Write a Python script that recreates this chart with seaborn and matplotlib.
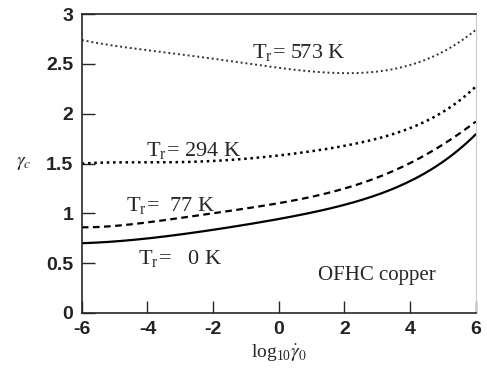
import numpy as np
import pandas as pd
import matplotlib
matplotlib.use("Agg")
import matplotlib.pyplot as plt
import seaborn as sns

# values (log10 strain rate -> gamma_c)
x_rate = [-6, -4, -2, 0, 1, 2, 3, 4, 4.5, 5, 5.5, 6]
gc_0K = [0.70, 0.75, 0.83, 0.95, 1.01, 1.08, 1.18, 1.33, 1.42, 1.52, 1.63, 1.80]
gc_77K = [0.86, 0.91, 1.00, 1.10, 1.17, 1.25, 1.36, 1.50, 1.59, 1.70, 1.80, 1.92]
gc_294K = [1.50, 1.51, 1.53, 1.58, 1.62, 1.68, 1.75, 1.86, 1.93, 2.02, 2.12, 2.28]
gc_573K = [2.74, 2.64, 2.55, 2.46, 2.43, 2.41, 2.42, 2.48, 2.55, 2.63, 2.72, 2.84]

temps = ["0 K", "77 K", "294 K", "573 K"]
curves = [gc_0K, gc_77K, gc_294K, gc_573K]

rows = []
for t, c in zip(temps, curves):
    for xv, yv in zip(x_rate, c):
        rows.append({"x": xv, "y": yv, "T": t})
df = pd.DataFrame(rows)

sns.set_style("ticks")
plt.rcParams["font.family"] = ["Liberation Sans", "DejaVu Sans"]
plt.rcParams["mathtext.fontset"] = "stix"
plt.rcParams["axes.unicode_minus"] = False

fig = plt.figure(figsize=(4.87, 3.73), dpi=100)
ax = fig.add_axes([0.168, 0.161, 0.809, 0.801])

styles = {
    "0 K": dict(ls="-", lw=1.6, color="black"),
    "77 K": dict(ls=(0, (3, 2)), lw=1.6, color="black"),
    "294 K": dict(ls=(0, (1, 1.5)), lw=1.8, color="black"),
    "573 K": dict(ls=(0, (1, 1.5)), lw=1.4, color="#333333"),
}
xs = np.linspace(-6, 6, 200)
for t in temps:
    sub = df[df["T"] == t]
    # smooth curve through the read points
    coef = np.polyfit(sub["x"], sub["y"], 5)
    ys = np.polyval(coef, xs)
    sns.lineplot(x=xs, y=ys, ax=ax, **styles[t])

ax.set_xlim(-6, 6)
ax.set_ylim(0, 3)
ax.set_xticks([-6, -4, -2, 0, 2, 4, 6])
ax.set_yticks([0, 0.5, 1, 1.5, 2, 2.5, 3])
ax.set_yticklabels(["0", "0.5", "1", "1.5", "2", "2.5", "3"])
ax.tick_params(direction="in", length=9, width=1, labelsize=14, pad=6)
for lab in ax.get_xticklabels() + ax.get_yticklabels():
    lab.set_fontweight("bold")
    lab.set_color("#222222")

for s in ["left", "bottom", "top"]:
    ax.spines[s].set_linewidth(1.2)
ax.spines["right"].set_color("#cccccc")
ax.spines["right"].set_linewidth(0.8)

serif = ["Liberation Serif", "DejaVu Serif"]
lab_kw = dict(fontsize=16, family=serif, ha="center", va="center")
ax.text(0.6, 2.62, r"T$_\mathregular{r}$= 573 K", **lab_kw)
ax.text(-2.6, 1.63, r"T$_\mathregular{r}$= 294 K", **lab_kw)
ax.text(-3.3, 1.08, r"T$_\mathregular{r}$=  77 K", **lab_kw)
ax.text(-3.0, 0.55, r"T$_\mathregular{r}$=   0 K", **lab_kw)
ax.text(3.0, 0.38, "OFHC copper", fontsize=15, family=serif, ha="center", va="center")

ax.set_xlabel(r"$\mathregular{log_{10}}\dot{\gamma}_0$", fontsize=14, family=serif, labelpad=3)
ax.set_ylabel(r"$\gamma_c$", fontsize=14, rotation=0, labelpad=16, va="center")

fig.savefig("out.png", dpi=100)
